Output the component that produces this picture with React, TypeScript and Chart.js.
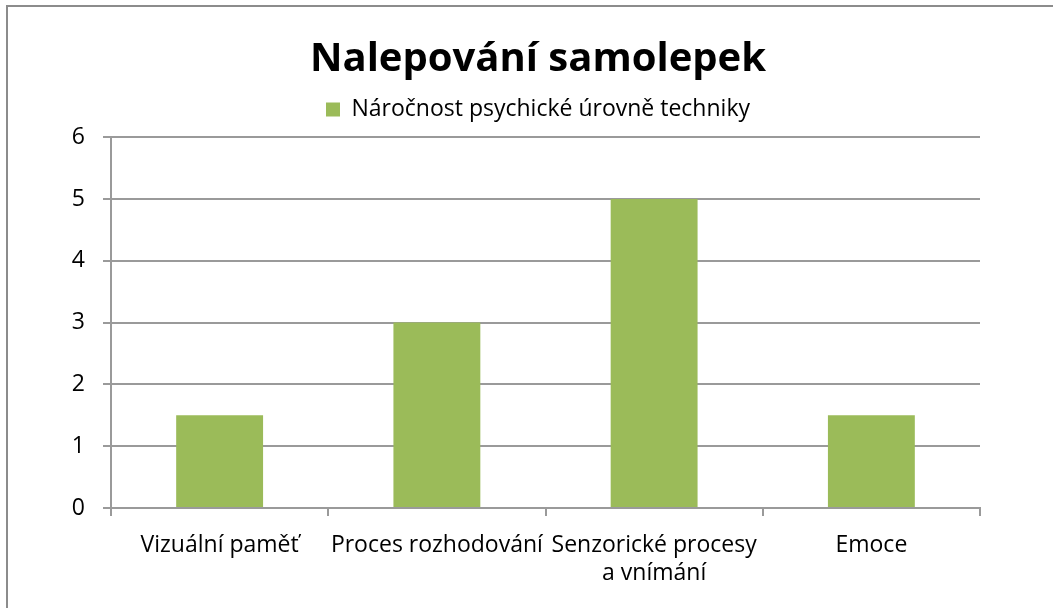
import React, { useEffect, useRef } from "react";
import { Chart, registerables } from "chart.js";

Chart.register(...registerables);

const categories: (string | string[])[] = [
  "Vizuální paměť",
  "Proces rozhodování",
  ["Senzorické procesy", "a vnímání"],
  "Emoce",
];
const seriesName = "Náročnost psychické úrovně techniky";
const values = [1.5, 3, 5, 1.5];
const titleText = "Nalepování samolepek";
const FONT = "'Open Sans', sans-serif";

export default function App() {
  const ref = useRef<HTMLCanvasElement>(null);
  useEffect(() => {
    if (!ref.current) return;
    const chart = new Chart(ref.current, {
      type: "bar",
      data: {
        labels: categories,
        datasets: [
          {
            label: seriesName,
            data: values,
            backgroundColor: "#9BBB59",
            borderWidth: 0,
            barPercentage: 0.4,
            categoryPercentage: 1,
          },
        ],
      },
      options: {
        animation: false,
        responsive: false,
        layout: { padding: { left: 23, right: 0, top: 0, bottom: 0 } },
        plugins: {
          title: {
            display: true,
            text: titleText,
            color: "#000",
            font: { family: FONT, size: 40, weight: "bold" },
            padding: { top: 36, bottom: 2 },
          },
          legend: {
            display: true,
            weight: 1800,
            labels: {
              color: "#000",
              boxWidth: 14,
              boxHeight: 14,
              font: { family: FONT, size: 23 },
              padding: 12,
            },
          },
          subtitle: {
            display: true,
            text: "",
            weight: 500,
            font: { size: 1 },
            padding: { top: 0, bottom: 5 },
          },
          tooltip: { enabled: false },
        },
        scales: {
          x: {
            offset: true,
            grid: {
              display: true,
              drawOnChartArea: false,
              drawTicks: true,
              tickLength: 8,
              offset: true,
              color: "#9a9a9a",
              lineWidth: 2,
            },
            border: { display: true, color: "#9a9a9a", width: 2 },
            ticks: {
              color: "#000",
              font: { family: FONT, size: 23, lineHeight: 1.22 },
              padding: 15,
              maxRotation: 0,
              autoSkip: false,
            },
            afterFit: (s: any) => {
              s.height = 100;
            },
          },
          y: {
            min: 0,
            max: 6,
            grid: {
              color: "#9a9a9a",
              lineWidth: 2,
              tickLength: 8,
              drawTicks: true,
            },
            border: { display: true, color: "#9a9a9a", width: 2 },
            ticks: {
              stepSize: 1,
              color: "#000",
              font: { family: FONT, size: 23 },
              padding: 18,
            },
            afterFit: (s: any) => {
              s.width = 88;
            },
          },
          yRight: {
            type: "linear",
            position: "right",
            display: true,
            min: 0,
            max: 6,
            grid: { display: false },
            border: { display: false },
            ticks: { display: false },
            afterFit: (s: any) => {
              s.width = 73;
            },
          },
        },
      },
    });
    return () => chart.destroy();
  }, []);
  return (
    <div
      style={{
        position: "absolute",
        left: 0,
        top: 0,
        width: 1053,
        height: 608,
        overflow: "hidden",
        background: "#fff",
      }}
    >
      <div
        style={{
          position: "absolute",
          left: 6,
          top: 5,
          width: 1200,
          height: 800,
          border: "2px solid #8c8c8c",
        }}
      />
      <canvas
        ref={ref}
        width={1053}
        height={608}
        style={{ position: "absolute", left: 0, top: 0, width: 1053, height: 608 }}
      />
    </div>
  );
}
